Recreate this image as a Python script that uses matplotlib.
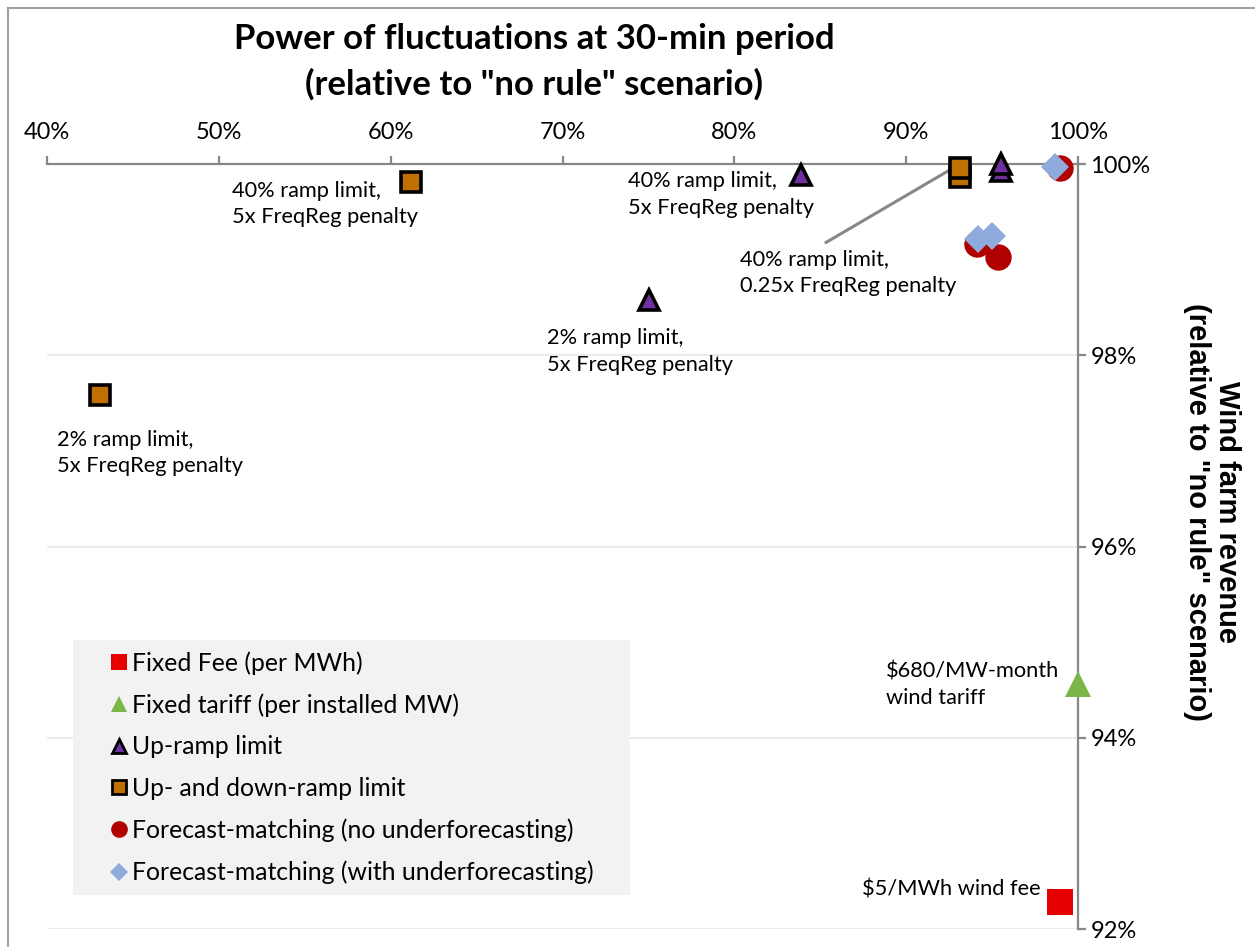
import matplotlib.pyplot as plt
from matplotlib.lines import Line2D

# fluctuation power (% of "no rule") vs. wind farm revenue (% of "no rule")
fee_x = [98.96]
fee_y = [92.28]
tariff_x = [100.0]
tariff_y = [94.56]
upramp_x = [83.86, 75.04, 95.53, 95.53]
upramp_y = [99.88, 98.58, 99.93, 100.0]
updown_x = [61.16, 43.11, 93.14, 93.14]
updown_y = [99.81, 97.58, 99.86, 99.96]
fm_no_x = [98.93, 94.13, 95.35]
fm_no_y = [99.96, 99.16, 99.03]
fm_under_x = [98.67, 94.19, 95.00]
fm_under_y = [99.97, 99.22, 99.25]

x_ticks = [40, 50, 60, 70, 80, 90, 100]
y_ticks = [92, 94, 96, 98, 100]

plt.rcParams['font.family'] = ['Lato', 'DejaVu Sans']

fig = plt.figure(figsize=(12.55, 9.47), dpi=100)
ax = fig.add_axes([47 / 1255, 1 - 929 / 947, (1078 - 47) / 1255, (929 - 164) / 947])

grey = '#878787'
ax.set_xlim(40, 100)
ax.set_ylim(92, 100)
for y in y_ticks[:-1]:
    ax.axhline(y, color='#e8e8e8', lw=1.2, zorder=0)

ax.plot(fee_x, fee_y, 's', color='#e60000', ms=19, mew=0, clip_on=False, zorder=3)
ax.plot(tariff_x, tariff_y, '^', color='#7ab648', ms=19, mew=0, clip_on=False, zorder=3)
ax.plot(upramp_x, upramp_y, '^', color='#7030a0', mec='black', ms=15, mew=2.6, clip_on=False, zorder=3)
ax.plot(updown_x, updown_y, 's', color='#c07000', mec='black', ms=15, mew=2.6, clip_on=False, zorder=3)
ax.plot(fm_no_x, fm_no_y, 'o', color='#b00000', ms=19, mew=0, clip_on=False, zorder=3)
ax.plot(fm_under_x, fm_under_y, 'D', color='#8faadc', ms=14, mew=0, clip_on=False, zorder=4)

# spines: x axis on top, y axis on the right
for s in ['left', 'bottom']:
    ax.spines[s].set_visible(False)
for s in ['top', 'right']:
    ax.spines[s].set_color(grey)
    ax.spines[s].set_linewidth(1.6)
ax.xaxis.tick_top()
ax.yaxis.tick_right()
ax.set_xticks(x_ticks)
ax.set_xticklabels([f'{v}%' for v in x_ticks])
ax.set_yticks(y_ticks)
ax.set_yticklabels([f'{v}%' for v in y_ticks])
ax.tick_params(axis='x', direction='out', length=6, width=1.6, color=grey, pad=9, labelsize=17)
ax.tick_params(axis='y', direction='out', length=6, width=1.6, color=grey, pad=3, labelsize=17)

# point labels
lbl = dict(fontsize=15.7, va='center', ha='left', linespacing=1.4)
ax.text(50.77, 99.58, '40% ramp limit,\n5x FreqReg penalty', **lbl)
ax.text(73.82, 99.68, '40% ramp limit,\n5x FreqReg penalty', **lbl)
ax.text(80.34, 98.86, '40% ramp limit,\n0.25x FreqReg penalty', **lbl)
ax.text(69.10, 98.04, '2% ramp limit,\n5x FreqReg penalty', **lbl)
ax.text(40.58, 96.98, '2% ramp limit,\n5x FreqReg penalty', **lbl)
ax.text(88.84, 94.55, '$680/MW-month\nwind tariff', **lbl)
ax.text(87.44, 92.41, '$5/MWh wind fee', **lbl)
ax.plot([85.34, 92.56], [99.18, 99.94], color=grey, lw=2.2, zorder=2)

fig.text(534 / 1255, 1 - 62 / 947, 'Power of fluctuations at 30-min period\n(relative to "no rule" scenario)',
         ha='center', va='center', fontsize=25, fontweight='bold', linespacing=1.5)
fig.text(1212 / 1255, 1 - 512 / 947, 'Wind farm revenue\n(relative to "no rule" scenario)',
         ha='center', va='center', rotation=-90, fontsize=21, fontweight='bold',
         family='Liberation Sans', linespacing=1.05)

handles = [
    Line2D([], [], ls='none', marker='s', color='#e60000', ms=12, mew=0),
    Line2D([], [], ls='none', marker='^', color='#7ab648', ms=12, mew=0),
    Line2D([], [], ls='none', marker='^', color='#7030a0', mec='black', ms=10, mew=2),
    Line2D([], [], ls='none', marker='s', color='#c07000', mec='black', ms=10, mew=2),
    Line2D([], [], ls='none', marker='o', color='#b00000', ms=12, mew=0),
    Line2D([], [], ls='none', marker='D', color='#8faadc', ms=9, mew=0),
]
labels = ['Fixed Fee (per MWh)', 'Fixed tariff (per installed MW)', 'Up-ramp limit',
          'Up- and down-ramp limit', 'Forecast-matching (no underforecasting)',
          'Forecast-matching (with underforecasting)']
leg = fig.legend(handles, labels, loc='upper left',
                 bbox_to_anchor=(73 / 1255, 1 - 893 / 947, (630 - 73) / 1255, (893 - 640) / 947),
                 mode='expand', borderaxespad=0, fontsize=17.8, frameon=True, fancybox=False,
                 facecolor='#f2f2f2', edgecolor='none', framealpha=1,
                 handlelength=2.8, handletextpad=-0.85, labelspacing=0.75, borderpad=0.45)

# outer chart border
fig.add_artist(Line2D([8 / 1255, 1], [1 - 8 / 947, 1 - 8 / 947], color='#a0a0a0', lw=1.5))
fig.add_artist(Line2D([8 / 1255, 8 / 1255], [0, 1 - 8 / 947], color='#a0a0a0', lw=1.5))

fig.savefig('out.png', dpi=100)
